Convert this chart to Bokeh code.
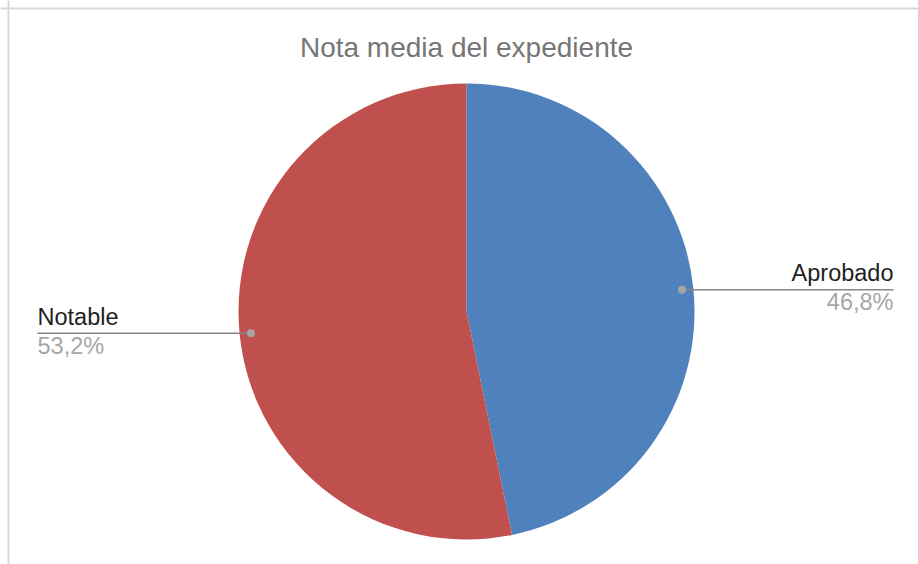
import math
from bokeh.plotting import figure
from bokeh.models import Range1d, Span
from bokeh.core.properties import value
from bokeh.embed import file_html
from bokeh.resources import INLINE

title_text = "Nota media del expediente"
categories = ["Aprobado", "Notable"]
shares = [46.8, 53.2]
pct_labels = ["46,8%", "53,2%"]
colors = ["#4F81BD", "#C0504D"]

W, H = 918, 564
p = figure(width=W, height=H, output_backend="svg", toolbar_location=None,
           x_range=Range1d(0, W), y_range=Range1d(0, H),
           min_border=0, outline_line_color=None, background_fill_color="white")
p.axis.visible = False
p.grid.visible = False

# frame lines (top and left)
p.add_layout(Span(location=H - 8, dimension="width", line_color="#d9d9d9", line_width=2))
p.add_layout(Span(location=8, dimension="height", line_color="#d9d9d9", line_width=2))

cx, cy, r = 466, 253, 228
total = sum(shares)
FONT = value("Liberation Sans")
TS, LS = 28, 23.5
adj = 0.39

p.text(x=[466], y=[506.5 + adj * TS], text=[title_text], text_font=FONT,
       text_font_size=f"{TS}px", text_color="#767676", text_align="center",
       text_baseline="alphabetic")

cum = 0.0
for i, (cat, s) in enumerate(zip(categories, shares)):
    a0 = math.pi / 2 - 2 * math.pi * cum / total
    a1 = math.pi / 2 - 2 * math.pi * (cum + s) / total
    p.wedge(x=cx, y=cy, radius=r, radius_units="screen", start_angle=a0, end_angle=a1,
            direction="clock", fill_color=colors[i], line_color=None)
    mid = (a0 + a1) / 2
    dx = cx + 0.95 * r * math.cos(mid)
    dy = cy + 0.95 * r * math.sin(mid)
    if math.cos(mid) >= 0:
        xend, align = 893, "right"
    else:
        xend, align = 37, "left"
    p.line(x=[dx, xend], y=[dy, dy], line_color="#858585", line_width=1.6)
    p.scatter(x=[dx], y=[dy], size=8, fill_color="#a5a5a5", line_color=None)
    p.text(x=[xend], y=[dy + 7.5 + adj * LS], text=[cat], text_font=FONT,
           text_font_size=f"{LS}px", text_color="#1f1f1f", text_align=align,
           text_baseline="alphabetic")
    p.text(x=[xend], y=[dy - 21.7 + adj * LS], text=[pct_labels[i]], text_font=FONT,
           text_font_size=f"{LS}px", text_color="#a6a6a6", text_align=align,
           text_baseline="alphabetic")
    cum += s

open("out.html", "w").write(file_html(p, INLINE))
